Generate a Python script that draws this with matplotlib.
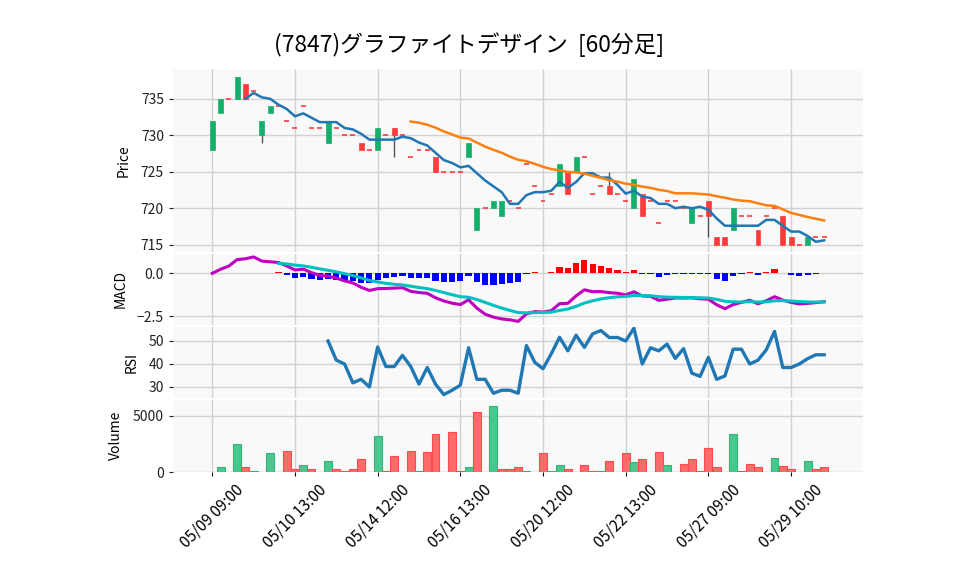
import numpy as np
import pandas as pd
import matplotlib
matplotlib.use("Agg")
import matplotlib.pyplot as plt

plt.rcParams['font.family'] = ['Noto Sans CJK JP', 'DejaVu Sans']

title = "(7847)グラファイトデザイン  [60分足]"

# 60分足 OHLC + 出来高 (読み取り値)
opens = [728, 733, 735, 735, 737, 736, 730, 733, 734, 732,
         731, 734, 731, 731, 729, 731, 730, 730, 729, 728,
         728, 730, 731, 730, 727, 728, 728, 727, 725, 725,
         725, 727, 717, 720, 720, 719, 721, 720, 726, 723,
         721, 722, 723, 725, 725, 727, 722, 723, 723, 722,
         721, 720, 722, 721, 718, 721, 721, 720, 718, 719,
         721, 716, 716, 717, 719, 719, 717, 719, 720, 719,
         716, 715, 715, 716, 716]
closes = [732, 735, 735, 738, 735, 736, 732, 734, 734, 732,
          731, 734, 731, 731, 732, 731, 730, 730, 728, 728,
          731, 730, 730, 730, 727, 728, 728, 725, 725, 725,
          725, 729, 720, 720, 721, 721, 721, 720, 726, 723,
          721, 722, 726, 722, 727, 727, 722, 723, 722, 722,
          721, 724, 719, 721, 718, 721, 721, 720, 720, 719,
          719, 715, 715, 720, 719, 719, 715, 719, 720, 715,
          715, 715, 716, 716, 716]
highs = [max(o, c) for o, c in zip(opens, closes)]
lows = [min(o, c) for o, c in zip(opens, closes)]
lows[6] = 729
lows[22] = 727
highs[48] = 725
lows[60] = 716

volumes = [0, 410, 0, 2500, 410, 120, 0, 1730, 0, 1880,
           235, 590, 235, 0, 1000, 235, 120, 235, 1200, 0,
           3230, 120, 1440, 0, 1880, 120, 1820, 3380, 0, 3590,
           120, 410, 5350, 0, 5880, 235, 235, 410, 120, 0,
           1700, 120, 590, 235, 0, 650, 120, 120, 940, 0,
           1700, 850, 1200, 0, 1820, 590, 0, 680, 1200, 120,
           2180, 410, 0, 3410, 120, 680, 410, 0, 1290, 500,
           235, 0, 940, 235, 410]

tick_pos = [0, 10, 20, 30, 40, 50, 60, 70]
tick_labels = ["05/09 09:00", "05/10 13:00", "05/14 12:00", "05/16 13:00",
               "05/20 12:00", "05/22 13:00", "05/27 09:00", "05/29 10:00"]

n = len(closes)
x = np.arange(n)
c = pd.Series(closes, dtype=float)

# 指標
ma5 = c.rolling(5).mean()
ma25 = c.rolling(25).mean()
ema12 = c.ewm(span=12, adjust=False).mean()
ema26 = c.ewm(span=26, adjust=False).mean()
macd = ema12 - ema26
signal = macd.ewm(span=9, adjust=False, min_periods=9).mean()
hist = macd - signal
d = c.diff()
gain = d.clip(lower=0).rolling(14).mean()
loss = (-d.clip(upper=0)).rolling(14).mean()
rsi = 100 - 100 / (1 + gain / loss)

up_c = '#12b06a'
dn_c = '#ff3b3b'
vol_up = '#4cc68f'
vol_dn = '#ff6b6b'
bg = '#f9f9f9'
gridc = '#d2d2d2'

fig = plt.figure(figsize=(9.58, 5.75), dpi=100)
L, W = 173 / 958, 690 / 958


def box(top, bot):
    return [L, 1 - bot / 575, W, (bot - top) / 575]


ax1 = fig.add_axes(box(68.5, 252))
ax2 = fig.add_axes(box(253.5, 325), sharex=ax1)
ax3 = fig.add_axes(box(326.5, 398), sharex=ax1)
ax4 = fig.add_axes(box(399.5, 472), sharex=ax1)

for ax in (ax1, ax2, ax3, ax4):
    ax.set_facecolor(bg)
    for s in ax.spines.values():
        s.set_visible(False)
    ax.grid(True, color=gridc, linewidth=1)
    ax.set_axisbelow(True)
    ax.tick_params(axis='y', labelsize=10, length=3, colors='#222222')
    ax.tick_params(axis='x', length=3)

# ローソク足
bw = 0.6
for i in range(n):
    o, cl, h, lo = opens[i], closes[i], highs[i], lows[i]
    col = up_c if cl > o else dn_c
    if h > max(o, cl) or lo < min(o, cl):
        ax1.vlines(i, lo, h, color='#555555', linewidth=1, zorder=2)
    if cl == o:
        ax1.hlines(cl, i - bw / 2, i + bw / 2, color=dn_c, linewidth=1.2, zorder=3)
    else:
        ax1.bar(i, abs(cl - o), bottom=min(o, cl), width=bw, color=col,
                edgecolor=col, linewidth=0.5, zorder=3)
ax1.plot(x, ma5, color='#1f77b4', linewidth=1.8, zorder=4)
ax1.plot(x, ma25, color='#ff7f0e', linewidth=1.8, zorder=4)
ax1.set_ylim(714.0, 739.15)
ax1.set_yticks([715, 720, 725, 730, 735])
ax1.set_ylabel("Price", fontsize=10)
ax1.yaxis.set_label_coords(-0.062, 0.5)

# MACD
hcols = ['#ff0000' if v >= 0 else '#0000ff' for v in hist.fillna(0)]
ax2.bar(x, hist, width=0.75, color=hcols, zorder=2)
ax2.plot(x, macd, color='#c000c0', linewidth=2.2, zorder=3)
ax2.plot(x, signal, color='#00c0c0', linewidth=2.2, zorder=3)
ax2.set_ylim(-3.02, 1.16)
ax2.set_yticks([-2.5, 0.0])
ax2.set_yticklabels(["−2.5", "0.0"])
ax2.set_ylabel("MACD", fontsize=10)
ax2.yaxis.set_label_coords(-0.066, 0.5)

# RSI
ax3.plot(x, rsi, color='#1f77b4', linewidth=2.4)
ax3.set_ylim(25.2, 56.3)
ax3.set_yticks([30, 40, 50])
ax3.set_ylabel("RSI", fontsize=10)
ax3.yaxis.set_label_coords(-0.050, 0.5)

# 出来高
vcols = [vol_up if i > 0 and closes[i] > closes[i - 1] else vol_dn for i in range(n)]
vedge = ['#33b57a' if col == vol_up else '#ff4a4a' for col in vcols]
ax4.bar(x, volumes, width=0.96, color=vcols, edgecolor=vedge, linewidth=0.8, zorder=2)
ax4.set_ylim(0, max(volumes) * 1.1)
ax4.set_yticks([0, 5000])
ax4.set_ylabel("Volume", fontsize=10)
ax4.yaxis.set_label_coords(-0.073, 0.5)

ax1.set_xlim(-4.75, 78.7)
ax4.set_xticks(tick_pos)
ax4.set_xticklabels(tick_labels, rotation=45, fontsize=11)
for ax in (ax1, ax2, ax3):
    ax.tick_params(axis='x', labelbottom=False, length=0)

fig.text(0.49, 0.922, title, ha='center', va='center', fontsize=16.4)

fig.savefig("out.png", dpi=100)
